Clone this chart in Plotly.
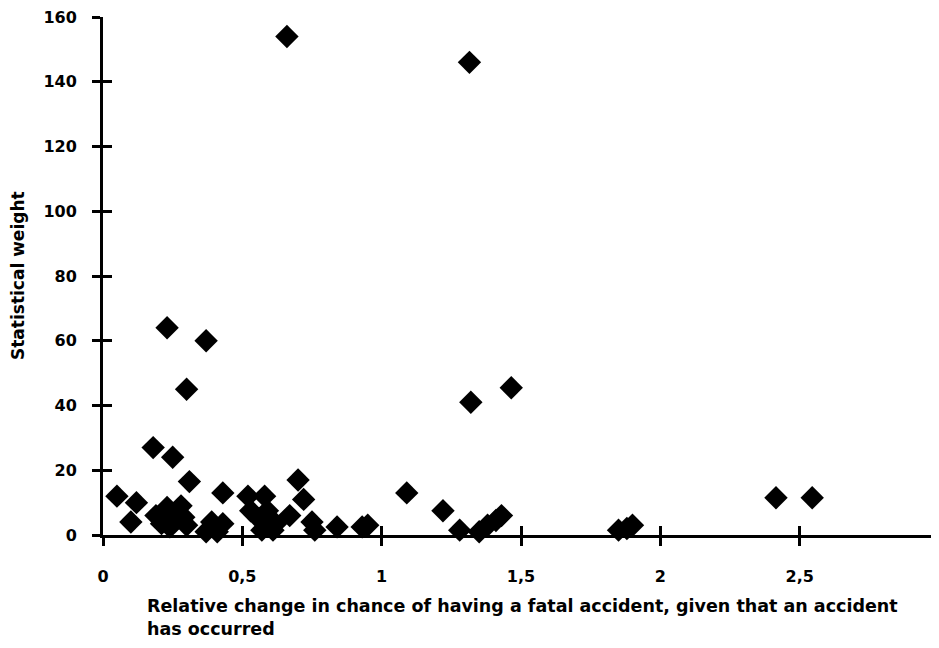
import plotly.graph_objects as go

# Data
rel_change = [0.05, 0.12, 0.10, 0.18, 0.25, 0.23, 0.37, 0.30, 0.31, 0.19,
              0.23, 0.28, 0.26, 0.29, 0.21, 0.24, 0.30, 0.37, 0.39, 0.41,
              0.43, 0.43, 0.52, 0.58, 0.53, 0.56, 0.59, 0.60, 0.57, 0.61,
              0.62, 0.66, 0.67, 0.70, 0.72, 0.75, 0.76, 0.84, 0.93, 0.95,
              1.09, 1.22, 1.28, 1.315, 1.32, 1.465, 1.35, 1.38, 1.41, 1.43,
              1.85, 1.88, 1.90, 2.415, 2.545]
stat_weight = [12, 10, 4, 27, 24, 64, 60, 45, 16.5, 6,
               8.5, 9, 4.5, 5.5, 3.5, 2.5, 3, 1, 4, 1,
               3.5, 13, 12, 12, 7.5, 5, 7.5, 4, 1.5, 1.5,
               3.5, 154, 6, 17, 11, 4, 1.5, 2.5, 2.5, 3,
               13, 7.5, 1.5, 146, 41, 45.5, 1, 3, 4.5, 6,
               1.5, 2, 3, 11.5, 11.5]

x_tickvals = [0, 0.5, 1, 1.5, 2, 2.5, 3]
x_ticktext = ["0", "0,5", "1", "1,5", "2", "2,5", "3"]
y_tickvals = [0, 20, 40, 60, 80, 100, 120, 140, 160]
y_ticktext = ["0", "20", "40", "60", "80", "100", "120", "140", "160"]

x_title_line1 = "Relative change in chance of having a fatal accident, given that an accident"
x_title_line2 = "has occurred"
y_title = "Statistical weight"

FONT = "DejaVu Sans, Liberation Sans, Arial, sans-serif"
OFF = 8  # default page margin of the html body
W, H = 939 - OFF, 648 - OFF
ML, MR, MT, MB = 103 - OFF, 0, 17 - OFF, 113
PW, PH = W - ML - MR, H - MT - MB

fig = go.Figure()
fig.add_trace(go.Scatter(
    x=rel_change, y=stat_weight, mode="markers",
    marker=dict(symbol="diamond", size=18, color="black", line=dict(width=0)),
    cliponaxis=False, showlegend=False, hoverinfo="skip"))
# empty trace to activate overlay axes (ticks crossing the axis lines)
fig.add_trace(go.Scatter(x=[], y=[], xaxis="x2", yaxis="y2", showlegend=False))

tickfont = dict(family=FONT, size=16, color="black", weight="bold")
fig.update_layout(
    width=W, height=H,
    margin=dict(l=ML, r=MR, t=MT, b=MB, autoexpand=False),
    paper_bgcolor="white", plot_bgcolor="white",
    xaxis=dict(range=[0, 3], tickvals=x_tickvals, ticktext=x_ticktext,
               showgrid=False, zeroline=False, showline=True, linewidth=3,
               linecolor="black", ticks="outside", ticklen=8, tickwidth=2.5,
               tickcolor="black", tickfont=tickfont, ticklabelstandoff=17,
               ticklabeloverflow="allow", automargin=False),
    yaxis=dict(range=[0, 160], tickvals=y_tickvals, ticktext=y_ticktext,
               showgrid=False, zeroline=False, showline=True, linewidth=3,
               linecolor="black", ticks="outside", ticklen=8, tickwidth=2.5,
               tickcolor="black", tickfont=tickfont, ticklabelstandoff=12,
               ticklabeloverflow="allow", automargin=False),
    xaxis2=dict(overlaying="x", range=[0, 3], tickvals=x_tickvals,
                showticklabels=False, showgrid=False, zeroline=False,
                showline=False, ticks="inside", ticklen=9, tickwidth=2.5,
                tickcolor="black", side="bottom", anchor="y2"),
    yaxis2=dict(overlaying="y", range=[0, 160], tickvals=y_tickvals,
                showticklabels=False, showgrid=False, zeroline=False,
                showline=False, ticks="inside", ticklen=9, tickwidth=2.5,
                tickcolor="black", side="left", anchor="x2"),
    annotations=[
        dict(text=x_title_line1 + "<br>" + x_title_line2,
             xref="paper", yref="paper",
             x=(145 - 103) / PW, y=-(594 - 535) / PH,
             xanchor="left", yanchor="top", align="left", showarrow=False,
             font=dict(family=FONT, size=17.5, color="black", weight="bold")),
        dict(text=y_title, xref="paper", yref="paper",
             x=(18 - 103) / PW, y=0.5, textangle=-90,
             xanchor="center", yanchor="middle", showarrow=False,
             font=dict(family=FONT, size=17, color="black", weight="bold")),
    ],
)

fig.write_html("out.html")
